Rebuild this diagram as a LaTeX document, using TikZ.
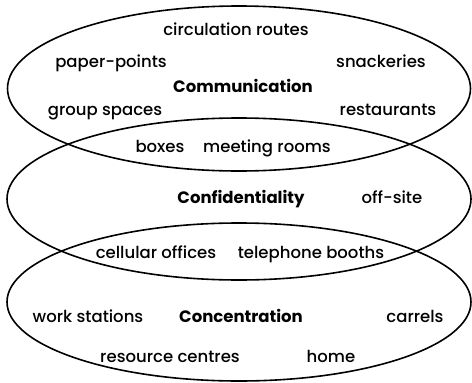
\documentclass[tikz,border=0pt]{standalone}
\usepackage{fontspec}
\setmainfont{Poppins}[UprightFont=* Medium, BoldFont=* Bold]
\begin{document}
\begin{tikzpicture}[x=1pt,y=-1pt,
  ring/.style={draw=black,line width=1.6pt},
  lbl/.style={anchor=base,inner sep=0pt,font=\fontsize{16.5}{18}\selectfont},
  key/.style={lbl,font=\fontsize{16.5}{18}\selectfont\bfseries}]
\useasboundingbox[fill=white] (0,0) rectangle (472,383);
\draw[ring] (239,88.5) ellipse [x radius=231.5, y radius=82.5];
\draw[ring] (239,199) ellipse [x radius=232, y radius=81];
\draw[ring] (239,302) ellipse [x radius=232, y radius=79];
\node[lbl] (circ) at (236,35) {circulation routes};
\node[lbl] (paper) at (111,67) {paper-points};
\node[lbl] (snack) at (381,67) {snackeries};
\node[key] (comm) at (243,92) {Communication};
\node[lbl] (group) at (105,115) {group spaces};
\node[lbl] (rest) at (388,115) {restaurants};
\node[lbl] (boxes) at (160,152) {boxes};
\node[lbl] (meet) at (267,152) {meeting rooms};
\node[key] (conf) at (241,203) {Confidentiality};
\node[lbl] (off) at (392,203) {off-site};
\node[lbl] (cell) at (156,258) {cellular offices};
\node[lbl] (tele) at (311,258) {telephone booths};
\node[lbl] (work) at (88,322) {work stations};
\node[key] (conc) at (241,322) {Concentration};
\node[lbl] (carr) at (415,322) {carrels};
\node[lbl] (res) at (170,362) {resource centres};
\node[lbl] (home) at (331,362) {home};
\end{tikzpicture}
\end{document}
